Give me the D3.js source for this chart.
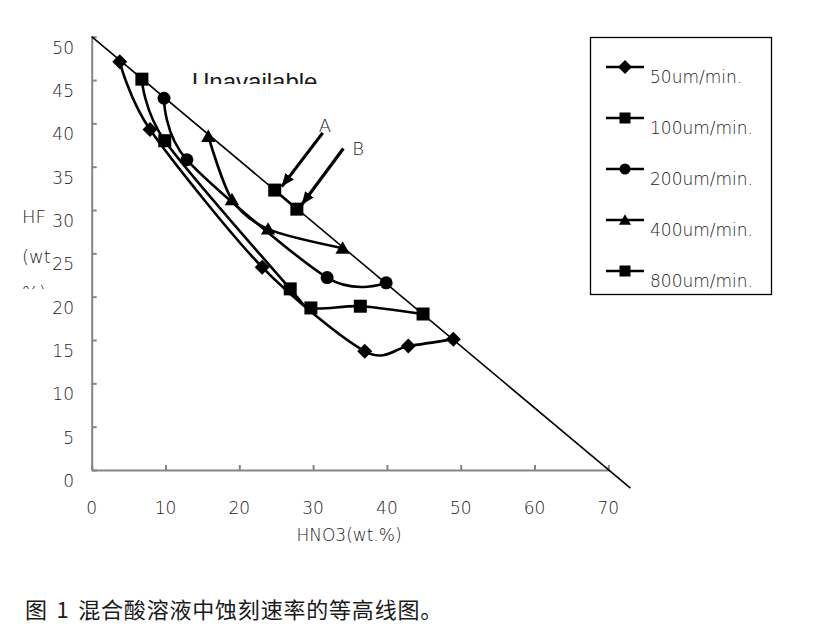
<!DOCTYPE html>
<html>
<head>
<meta charset="utf-8">
<script src="https://d3js.org/d3.v7.min.js"></script>
<style>
  body { margin: 0; background: #fff; }
  text { font-family: "DejaVu Sans", sans-serif; font-weight: 200; fill: #1a1a1a; }
  .caption { font-family: "Noto Sans CJK SC", sans-serif; font-weight: 400; }
</style>
</head>
<body>
<svg id="chart" width="831" height="635"></svg>
<script>
// valeurs (HNO3 wt.% , HF wt.%)
var xTicks = [0, 10, 20, 30, 40, 50, 60, 70];
var yTicks = [0, 5, 10, 15, 20, 25, 30, 35, 40, 45, 50];

var seriesNames = ["50um/min.", "100um/min.", "200um/min.", "400um/min.", "800um/min."];

var hno3_50 = [3.8, 7.9, 23.1, 37.0, 42.9, 49.0];
var hf_50   = [47.1, 39.3, 23.4, 13.7, 14.3, 15.1];

var hno3_100 = [6.8, 9.9, 26.9, 29.7, 36.4, 44.9];
var hf_100   = [45.1, 38.0, 20.9, 18.7, 18.9, 18.0];

var hno3_200 = [9.8, 12.9, 31.9, 39.9];
var hf_200   = [42.9, 35.8, 22.2, 21.6];

var hno3_400 = [15.8, 19.0, 23.9, 34.0];
var hf_400   = [38.5, 31.2, 27.8, 25.6];

var hno3_800 = [24.8, 27.8];
var hf_800   = [32.3, 30.1];

// droite limite
var limitHNO3 = [0, 73];
var limitHF   = [50, -2.1];

// fleches A et B : [depart, pointe]
var arrowA = [[31.3, 38.9], [25.75, 32.7]];
var arrowB = [[34.1, 37.1], [28.45, 30.6]];
var labelA = [31.6, 39.8];
var labelB = [36.1, 37.2];

var svg = d3.select("#chart");

var x = d3.scaleLinear().domain([0, 70]).range([91.7, 608.3]);
var y = d3.scaleLinear().domain([0, 50]).range([470, 36.7]);

function zip(a, b) { return a.map(function(v, i) { return [v, b[i]]; }); }

var series = [
  { name: seriesNames[0], shape: "diamond", pts: zip(hno3_50, hf_50) },
  { name: seriesNames[1], shape: "square",  pts: zip(hno3_100, hf_100) },
  { name: seriesNames[2], shape: "circle",  pts: zip(hno3_200, hf_200) },
  { name: seriesNames[3], shape: "triangle",pts: zip(hno3_400, hf_400) },
  { name: seriesNames[4], shape: "square",  pts: zip(hno3_800, hf_800) }
];

// formes des marqueurs
function markerPath(shape, s) {
  var h = s / 2;
  if (shape == "diamond") return "M0," + (-h) + "L" + h + ",0L0," + h + "L" + (-h) + ",0Z";
  if (shape == "square") return "M" + (-h) + "," + (-h) + "h" + s + "v" + s + "h" + (-s) + "Z";
  if (shape == "triangle") return "M0," + (-h * 1.05) + "L" + (h * 1.1) + "," + (h * 0.85) + "L" + (-h * 1.1) + "," + (h * 0.85) + "Z";
  return d3.arc()({ innerRadius: 0, outerRadius: h, startAngle: 0, endAngle: 2 * Math.PI });
}
function markerSize(shape) { return shape == "diamond" ? 15 : 13; }

// axes
var axisColor = "#858585";
var gx = svg.append("g").attr("transform", "translate(0," + y(0) + ")")
  .call(d3.axisBottom(x).tickValues(xTicks).tickSize(-5).tickSizeOuter(0).tickFormat(""));
var gy = svg.append("g").attr("transform", "translate(" + x(0) + ",0)")
  .call(d3.axisLeft(y).tickValues(yTicks).tickSize(-5).tickSizeOuter(0).tickFormat(""));
[gx, gy].forEach(function(g) {
  g.select(".domain").attr("stroke", axisColor).attr("stroke-width", 2);
  g.selectAll(".tick line").attr("stroke", axisColor).attr("stroke-width", 2);
});

svg.append("g").selectAll("text").data(xTicks).enter().append("text")
  .attr("x", function(d) { return x(d); })
  .attr("y", 514)
  .attr("text-anchor", "middle")
  .style("font-size", "17px")
  .text(function(d) { return d; });

svg.append("g").selectAll("text").data(yTicks).enter().append("text")
  .attr("x", 74)
  .attr("y", function(d) { return y(d) + 17; })
  .attr("text-anchor", "end")
  .style("font-size", "17px")
  .text(function(d) { return d; });

svg.append("text").attr("x", 349).attr("y", 541).attr("text-anchor", "middle")
  .style("font-size", "17px").text("HNO3(wt.%)");

// titre Y sur trois lignes, la derniere coupee
svg.append("clipPath").attr("id", "clipY").append("rect")
  .attr("x", 0).attr("y", 0).attr("width", 90).attr("height", 289);
var ytitle = svg.append("g").attr("clip-path", "url(#clipY)");
ytitle.append("text").attr("x", 22).attr("y", 223).style("font-size", "18px").text("HF");
ytitle.append("text").attr("x", 22).attr("y", 263).style("font-size", "18px").text("(wt");
ytitle.append("text").attr("x", 22).attr("y", 299).style("font-size", "18px").text("%)");

// texte coupe "Unavailable"
svg.append("clipPath").attr("id", "clipU").append("rect")
  .attr("x", 150).attr("y", 0).attr("width", 250).attr("height", 84);
svg.append("text").attr("clip-path", "url(#clipU)")
  .attr("x", 192).attr("y", 90)
  .style("font-family", "'Liberation Sans', Arial, sans-serif").style("font-weight", 400)
  .style("font-size", "24px").text("Unavailable");

// droite limite
var line = d3.line().x(function(d) { return x(d[0]); }).y(function(d) { return y(d[1]); });
svg.append("path").datum(zip(limitHNO3, limitHF))
  .attr("d", line).attr("fill", "none").attr("stroke", "#000").attr("stroke-width", 1.6);

// courbes lissees
var smooth = d3.line().curve(d3.curveCardinal.tension(0.15))
  .x(function(d) { return x(d[0]); }).y(function(d) { return y(d[1]); });

var gs = svg.append("g").selectAll("g").data(series).enter().append("g");
gs.append("path")
  .attr("d", function(d) { return smooth(d.pts); })
  .attr("fill", "none").attr("stroke", "#000").attr("stroke-width", 2.6);
gs.each(function(s) {
  d3.select(this).selectAll("path.m").data(s.pts).enter().append("path")
    .attr("class", "m")
    .attr("transform", function(d) { return "translate(" + x(d[0]) + "," + y(d[1]) + ")"; })
    .attr("d", markerPath(s.shape, markerSize(s.shape)))
    .attr("fill", "#000");
});

// fleches
svg.append("defs").append("marker").attr("id", "head")
  .attr("viewBox", "0 0 12 10").attr("refX", 12).attr("refY", 5)
  .attr("markerWidth", 13).attr("markerHeight", 11).attr("markerUnits", "userSpaceOnUse")
  .attr("orient", "auto")
  .append("path").attr("d", "M0,0L12,5L0,10Z").attr("fill", "#000");
[arrowA, arrowB].forEach(function(a) {
  svg.append("line")
    .attr("x1", x(a[0][0])).attr("y1", y(a[0][1]))
    .attr("x2", x(a[1][0])).attr("y2", y(a[1][1]))
    .attr("stroke", "#000").attr("stroke-width", 3.2)
    .attr("marker-end", "url(#head)");
});
svg.append("text").attr("x", x(labelA[0])).attr("y", y(labelA[1]) + 7)
  .attr("text-anchor", "middle").style("font-size", "18px").text("A");
svg.append("text").attr("x", x(labelB[0])).attr("y", y(labelB[1]) + 7)
  .attr("text-anchor", "middle").style("font-size", "18px").text("B");

// legende
svg.append("rect").attr("x", 590.5).attr("y", 37.5).attr("width", 181).attr("height", 257)
  .attr("fill", "none").attr("stroke", "#000").attr("stroke-width", 1.3);
var lg = svg.append("g").selectAll("g").data(series).enter().append("g")
  .attr("transform", function(d, i) { return "translate(0," + (67 + i * 51) + ")"; });
lg.append("line").attr("x1", 606).attr("x2", 644).attr("y1", 0).attr("y2", 0)
  .attr("stroke", "#000").attr("stroke-width", 2.4);
lg.append("path").attr("transform", "translate(625,0)")
  .attr("d", function(d) { return markerPath(d.shape, d.shape == "diamond" ? 14 : 11); })
  .attr("fill", "#000");
lg.append("text").attr("x", 650).attr("y", 16).style("font-size", "17px")
  .text(function(d) { return d.name; });

// legende de la figure
svg.append("text").attr("class", "caption").attr("x", 25).attr("y", 618)
  .style("font-size", "22px").style("word-spacing", "3px").style("letter-spacing", "0.8px")
  .text("图 1 混合酸溶液中蚀刻速率的等高线图。");
</script>
</body>
</html>
